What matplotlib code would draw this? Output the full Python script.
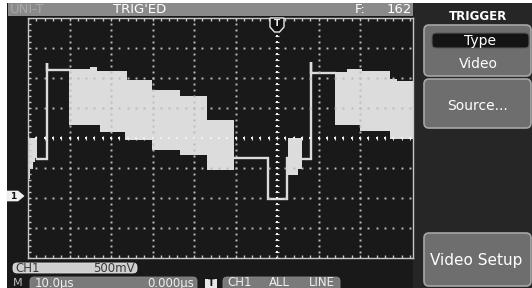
import matplotlib
matplotlib.use('Agg')
import matplotlib.pyplot as plt
from matplotlib.patches import Rectangle, FancyBboxPatch, Polygon
import numpy as np

W, H = 532, 288

# ---------------- scope settings ----------------
TIME_PER_DIV = 10.0      # us / div
VOLT_PER_DIV = 0.5       # V / div
T_MIN, T_MAX = -60.0, 32.77   # visible time window (menu hides the rest)
V_CENTER = 0.95          # volts at screen centre (ground marker lower)
V_MIN, V_MAX = V_CENTER - 4 * VOLT_PER_DIV, V_CENTER + 4 * VOLT_PER_DIV
GROUND_V = 0.0

# ---------------- waveform envelope blocks (time us, volts) ----------------
t0 = [-60.0, -59.5, -58.8, -58.3, -57.8]
top0 = [0.95, 0.95, 0.95, 0.95]
bot0 = [0.27, 0.43, 0.55, 0.62]

t1 = [-50.1, -45.1, -43.4, -42.7, -36.6, -36.1, -30.1, -23.4, -16.9, -10.4]
top1 = [2.10, 2.13, 2.07, 2.07, 2.07, 1.92, 1.75, 1.65, 1.25]
bot1 = [1.17, 1.17, 1.17, 1.05, 0.92, 0.92, 0.75, 0.67, 0.42]

t2 = [2.7, 5.1, 6.0]
top2 = [0.95, 0.95]
bot2 = [0.33, 0.43]

t3 = [14.0, 16.9, 20.0, 20.5, 27.2, 28.9, 32.8]
top3 = [2.05, 2.10, 2.10, 2.07, 1.93, 1.90]
bot3 = [1.17, 1.17, 1.07, 1.07, 0.93, 0.93]

# single traces
traceA_t = [-57.8, -55.5, -55.5, -55.5, -50.1]
traceA_v = [0.60, 0.60, 2.20, 2.08, 2.08]
traceB_t = [-10.4, -2.2, -2.2, 2.3, 2.3, 2.7]
traceB_v = [0.62, 0.62, -0.07, -0.07, 0.62, 0.62]
traceC_t = [6.0, 8.3, 8.3, 8.3, 14.0]
traceC_v = [0.60, 0.60, 2.22, 2.03, 2.03]

# ---------------- texts ----------------
brand = "UNI-T"
status = "TRIG'ED"
freq_label, freq_value = "F:", "162"
menu_title = "TRIGGER"
menu_items = ["Type", "Video", "Source...", "Video Setup"]
ch_label, ch_scale = "CH1", "500mV"
tb_label, tb_scale, tb_pos = "M", "10.0\u03bcs", "0.000\u03bcs"
trig_words = ["CH1", "ALL", "LINE"]

SCREEN = '#191919'
BAR = '#8a8a8a'
MENU_BG = '#262626'
BTN = '#6e6e6e'
BTN_EDGE = '#a6a6a6'
TRACE = '#dcdcdc'
GRID = '#bcbcbc'

plt.rcParams['font.family'] = ['DejaVu Sans']

fig = plt.figure(figsize=(W / 100, H / 100), dpi=100)
fig.patch.set_facecolor('white')

# ---------------- background layer (pixel coords) ----------------
bg = fig.add_axes([0, 0, 1, 1], zorder=0)
bg.set_xlim(0, W); bg.set_ylim(H, 0); bg.axis('off')
bg.add_patch(Rectangle((7, 3), W - 7, H - 3, color=SCREEN, lw=0))
bg.add_patch(Rectangle((8, 3), 413 - 8, 13, color=BAR, lw=0))
bg.add_patch(Rectangle((413, 3), W - 413, H - 3, color=MENU_BG, lw=0))

def button(a, x, y, w, h, fc, ec, r=5, lw=1.2):
    a.add_patch(FancyBboxPatch((x, y), w, h,
                               boxstyle=f"round,pad=0,rounding_size={r}",
                               fc=fc, ec=ec, lw=lw))

button(bg, 424, 25, 107, 51, BTN, BTN_EDGE)
button(bg, 424, 79, 107, 49, BTN, BTN_EDGE)
button(bg, 424, 233, 107, 53, BTN, BTN_EDGE)
button(bg, 432, 33, 97, 15, '#141414', '#5a5a5a', r=4, lw=0.8)

# bottom info boxes
button(bg, 13, 263, 124, 10, '#cfcfcf', '#e0e0e0', r=4, lw=0.6)
button(bg, 30, 277, 167, 14, '#7a7a7a', '#8a8a8a', r=4, lw=0.6)
bg.add_patch(Rectangle((205, 279), 12, 9, fc='#e8e8e8', ec='#e8e8e8', lw=0))
button(bg, 223, 277, 117, 14, '#7a7a7a', '#8a8a8a', r=4, lw=0.6)

# ---------------- main graticule axes ----------------
ax = fig.add_axes([28 / W, 30 / H, 385 / W, 240 / H], zorder=1)
ax.set_facecolor(SCREEN)
ax.set_xlim(T_MIN, T_MAX)
ax.set_ylim(V_MIN, V_MAX)
ax.set_xticks([]); ax.set_yticks([])
for s in ax.spines.values():
    s.set_color('#c8c8c8'); s.set_linewidth(1.0)

# waveform envelopes
for tt, tp, bt in [(t0, top0, bot0), (t1, top1, bot1), (t2, top2, bot2), (t3, top3, bot3)]:
    ax.fill_between(tt, bt + [bt[-1]], tp + [tp[-1]], step='post',
                    color=TRACE, lw=0, zorder=2)
for tt, vv in [(traceA_t, traceA_v), (traceB_t, traceB_v), (traceC_t, traceC_v)]:
    ax.plot(tt, vv, color=TRACE, lw=1.7, solid_joinstyle='miter', zorder=2)

# dotted grid
t_dots = np.arange(T_MIN, T_MAX + 0.01, TIME_PER_DIV / 5)
v_dots = np.arange(V_MIN, V_MAX + 0.001, VOLT_PER_DIV / 5)
for k in range(1, 9):
    tg = T_MIN + k * TIME_PER_DIV
    if abs(tg) < 1e-9:
        continue
    ax.plot(np.full_like(v_dots, tg), v_dots, ls='none', marker='s', ms=1.4,
            mew=0, color=GRID, zorder=3)
for k in range(-3, 4):
    vg = V_CENTER + k * VOLT_PER_DIV
    if k == 0:
        continue
    ax.plot(t_dots, np.full_like(t_dots, vg), ls='none', marker='s', ms=1.4,
            mew=0, color=GRID, zorder=3)
# centre cross with small ticks
ax.plot(np.zeros_like(v_dots), v_dots, ls='none', marker='_', ms=3, mew=0.8,
        color='#dedede', zorder=3)
ax.plot(np.zeros_like(v_dots), v_dots, ls='none', marker='s', ms=1.7, mew=0,
        color='#f2f2f2', zorder=3)
ax.plot(t_dots, np.full_like(t_dots, V_CENTER), ls='none', marker='|', ms=3,
        mew=0.8, color='#dedede', zorder=3)
ax.plot(t_dots, np.full_like(t_dots, V_CENTER), ls='none', marker='s', ms=1.7,
        mew=0, color='#f2f2f2', zorder=3)
# border ticks
ax.plot(np.full_like(v_dots, T_MIN), v_dots, ls='none', marker='_', ms=5,
        mew=1.0, color='#c8c8c8', zorder=3)
ax.plot(t_dots, np.full_like(t_dots, V_MAX), ls='none', marker='|', ms=5,
        mew=1.0, color='#c8c8c8', zorder=3)
ax.plot(t_dots, np.full_like(t_dots, V_MIN), ls='none', marker='|', ms=5,
        mew=1.0, color='#c8c8c8', zorder=3)

# ---------------- overlay: markers and texts ----------------
ov = fig.add_axes([0, 0, 1, 1], zorder=3)
ov.set_xlim(0, W); ov.set_ylim(H, 0); ov.axis('off')
ov.patch.set_alpha(0)

# trigger position marker
ov.add_patch(Polygon([(270, 18), (284, 18), (284, 27), (279.5, 32), (274.5, 32), (270, 27)],
                     closed=True, fc='#101010', ec='#e8e8e8', lw=1.0))
ov.text(277, 23.5, "T", color='#e8e8e8', fontsize=6.5, fontweight='bold',
        ha='center', va='center')

# channel-1 ground marker
gy = 139 + (V_CENTER - GROUND_V) / VOLT_PER_DIV * 30
ov.add_patch(Polygon([(7, gy - 5), (18, gy - 5), (24, gy), (18, gy + 5), (7, gy + 5)],
                     closed=True, fc='#f0f0f0', ec='#f0f0f0', lw=0.5))
ov.text(13, gy + 0.5, "1", color='#111111', fontsize=6.5, fontweight='bold',
        ha='center', va='center')

# status bar
ov.text(10, 9.5, brand, color='#a9a9a9', fontsize=9.5, ha='left', va='center')
ov.text(140, 9.5, status, color='white', fontsize=9.5, ha='center', va='center')
ov.text(355, 9.5, freq_label, color='white', fontsize=9.5, ha='left', va='center')
ov.text(412, 9.5, freq_value, color='white', fontsize=9.5, ha='right', va='center')

# menu
ov.text(478, 17, menu_title, color='white', fontsize=8.5, fontweight='bold',
        ha='center', va='center')
ov.text(480, 40.5, menu_items[0], color='white', fontsize=10, ha='center', va='center')
ov.text(478, 64, menu_items[1], color='white', fontsize=10, ha='center', va='center')
ov.text(477, 106, menu_items[2], color='white', fontsize=10, ha='center', va='center')
ov.text(476, 260, menu_items[3], color='white', fontsize=11, ha='center', va='center')

# bottom info
ov.text(15, 268, ch_label, color='#3a3a3a', fontsize=8.5, ha='left', va='center')
ov.text(135, 268, ch_scale, color='#3a3a3a', fontsize=8.5, ha='right', va='center')
ov.text(13, 283, tb_label, color='#bdbdbd', fontsize=8, ha='left', va='center')
ov.text(35, 283, tb_scale, color='#eeeeee', fontsize=8.5, ha='left', va='center')
ov.text(194, 283, tb_pos, color='#eeeeee', fontsize=8.5, ha='right', va='center')
ov.text(211, 283.5, "T", color='#111111', fontsize=7, fontweight='bold',
        ha='center', va='center')
ov.text(227, 283, trig_words[0], color='#eeeeee', fontsize=8.5, ha='left', va='center')
ov.text(279, 283, trig_words[1], color='#eeeeee', fontsize=8.5, ha='center', va='center')
ov.text(335, 283, trig_words[2], color='#eeeeee', fontsize=8.5, ha='right', va='center')

fig.savefig('out.png', dpi=100, facecolor=fig.get_facecolor())
